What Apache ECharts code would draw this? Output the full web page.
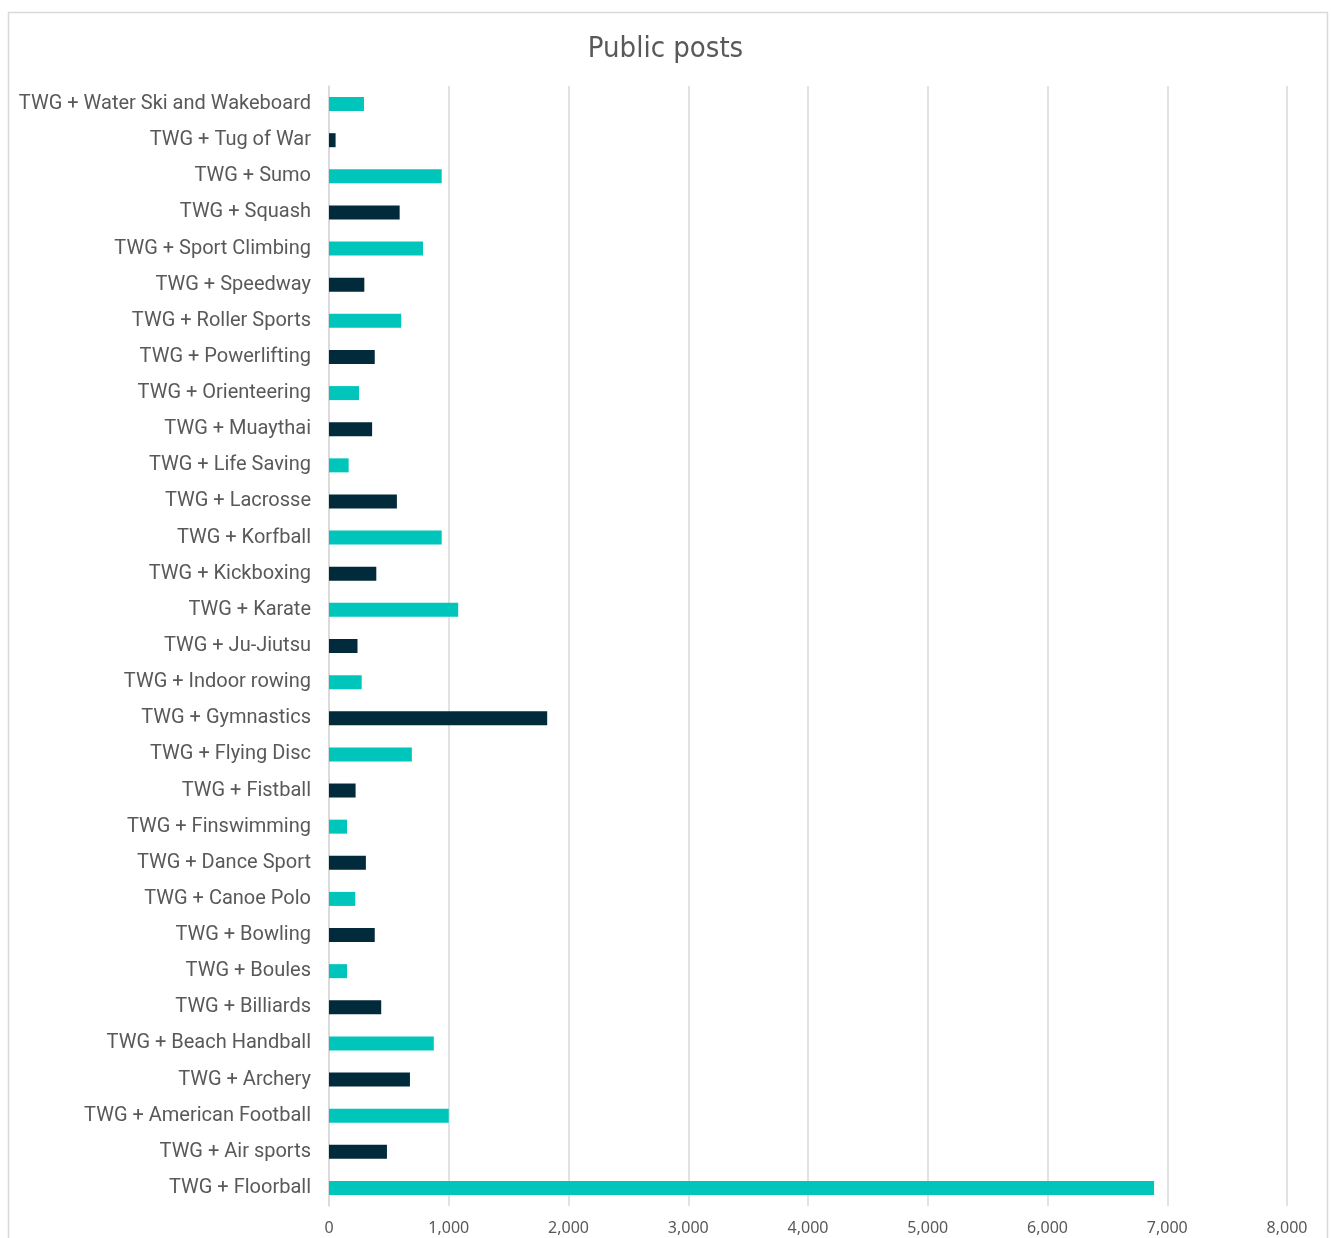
<!DOCTYPE html>
<html>
<head>
<meta charset="utf-8">
<script src="https://cdn.jsdelivr.net/npm/echarts@6/dist/echarts.min.js"></script>
<style>
html,body{margin:0;padding:0;background:#fff;}
#chart{width:1331px;height:1238px;}
</style>
</head>
<body>
<div id="chart"></div>
<script>
const categories = [
  "TWG + Floorball","TWG + Air sports","TWG + American Football","TWG + Archery",
  "TWG + Beach Handball","TWG + Billiards","TWG + Boules","TWG + Bowling",
  "TWG + Canoe Polo","TWG + Dance Sport","TWG + Finswimming","TWG + Fistball",
  "TWG + Flying Disc","TWG + Gymnastics","TWG + Indoor rowing","TWG + Ju-Jiutsu",
  "TWG + Karate","TWG + Kickboxing","TWG + Korfball","TWG + Lacrosse",
  "TWG + Life Saving","TWG + Muaythai","TWG + Orienteering","TWG + Powerlifting",
  "TWG + Roller Sports","TWG + Speedway","TWG + Sport Climbing","TWG + Squash",
  "TWG + Sumo","TWG + Tug of War","TWG + Water Ski and Wakeboard"
];
const values = [
  6890, 484, 1000, 676,
  875, 436, 151, 382,
  219, 308, 151, 222,
  692, 1822, 273, 238,
  1079, 395, 941, 567,
  164, 360, 251, 382,
  603, 295, 785, 590,
  941, 55, 292
];
const tickValues = [0,1000,2000,3000,4000,5000,6000,7000,8000];
const palette = ["#00C5BB", "#012A3A"];

const chart = echarts.init(document.getElementById('chart'), null, {renderer:'canvas'});
chart.setOption({
  backgroundColor: '#ffffff',
  animation: false,
  title: {
    text: 'Public posts',
    left: 'center',
    top: 30,
    textStyle: {
      fontFamily: '"DejaVu Sans Condensed","Roboto",sans-serif',
      fontSize: 29, fontWeight: 'normal', color: '#595959'
    }
  },
  graphic: [{
    type: 'rect',
    shape: {x: 8.5, y: 12.5, width: 1319, height: 1260},
    style: {fill: 'none', stroke: '#d9d9d9', lineWidth: 1.5},
    silent: true, z: -1
  }],
  grid: {left: 329, right: 44, top: 86, bottom: 32, containLabel: false, outerBoundsMode: 'none'},
  xAxis: {
    type: 'value', min: 0, max: 8000, interval: 1000,
    axisLine: {show: false}, axisTick: {show: false},
    splitLine: {lineStyle: {color: '#d9d9d9', width: 1.5}},
    axisLabel: {
      color: '#595959', fontSize: 16, margin: 14,
      fontFamily: '"Noto Sans","Open Sans",sans-serif',
      formatter: v => tickValues.includes(v) ? v.toLocaleString('en-US') : ''
    }
  },
  yAxis: {
    type: 'category', data: categories,
    axisLine: {lineStyle: {color: '#d9d9d9', width: 1.5}},
    axisTick: {show: false},
    axisLabel: {
      color: '#595959', fontSize: 20, margin: 18,
      padding: [4, 0, 0, 0],
      fontFamily: 'Roboto,sans-serif'
    }
  },
  series: [{
    type: 'bar',
    data: values,
    barWidth: 14,
    itemStyle: {color: p => palette[p.dataIndex % 2]}
  }]
});
</script>
</body>
</html>
